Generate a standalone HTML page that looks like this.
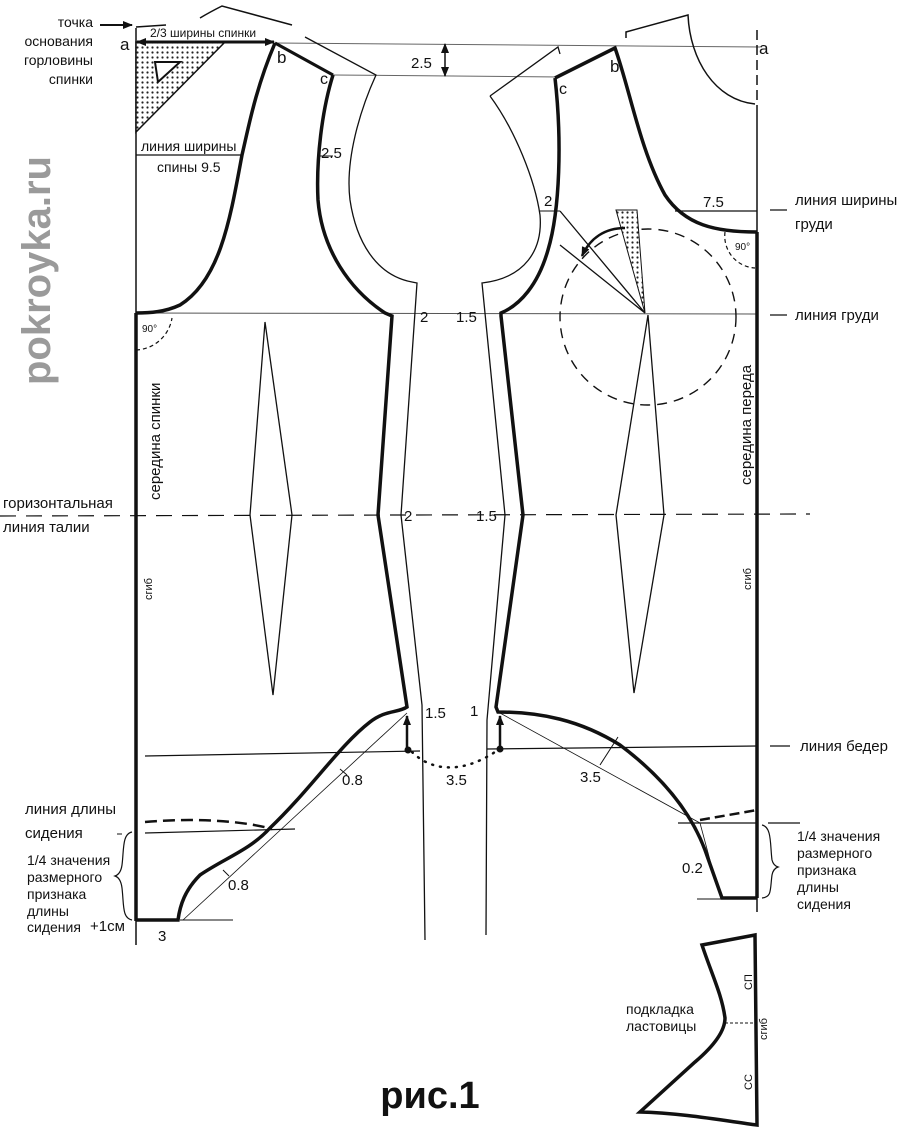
<!DOCTYPE html>
<html><head><meta charset="utf-8"><style>
html,body{margin:0;padding:0;background:#fff}
svg{display:block}
text{font-family:"Liberation Sans","DejaVu Sans",sans-serif;fill:#111}
</style></head><body>
<svg width="900" height="1137" viewBox="0 0 900 1137" xmlns="http://www.w3.org/2000/svg">
<defs>
<pattern id="dots" width="5" height="5" patternUnits="userSpaceOnUse"><rect width="5" height="5" fill="#fff"/><circle cx="2.5" cy="2.5" r="1.1" fill="#222"/></pattern>
<marker id="ah" markerUnits="userSpaceOnUse" markerWidth="10" markerHeight="10" refX="9" refY="4" orient="auto-start-reverse"><path d="M0,0 L10,4 L0,8 Z" fill="#111"/></marker>
</defs>
<g fill="none" stroke="#111">
<line x1="275" y1="43" x2="760" y2="47" stroke-width="1" stroke="#666"/>
<line x1="333" y1="75" x2="560" y2="77" stroke-width="1" stroke="#666"/>
<line x1="136" y1="313" x2="757" y2="314" stroke-width="1" stroke="#555"/>
<line x1="0" y1="516" x2="810" y2="514" stroke-width="1.2" stroke-dasharray="16,10"/>
<line x1="145" y1="756" x2="420" y2="751" stroke-width="1.2"/>
<line x1="487" y1="749" x2="757" y2="746" stroke-width="1.2"/>
<line x1="145" y1="833" x2="295" y2="829" stroke-width="1.2"/>
<line x1="678" y1="823" x2="757" y2="823" stroke-width="1.2"/>
<line x1="180" y1="920" x2="233" y2="920" stroke-width="1"/>
<line x1="697" y1="899" x2="722" y2="899" stroke-width="1"/>
<line x1="136" y1="155" x2="242" y2="155" stroke-width="1.3"/>
<line x1="675" y1="211" x2="757" y2="211" stroke-width="1.3"/>
<line x1="136" y1="28" x2="136" y2="945" stroke-width="1.5"/>
<line x1="136" y1="313" x2="136" y2="921" stroke-width="3.5"/>
<line x1="136" y1="27" x2="166" y2="25" stroke-width="1.5"/>
<path d="M136,42 L225,42 L136,132 Z" fill="url(#dots)" stroke-width="1.5"/>
<path d="M155,62 L180,62 L158,82 Z" fill="#fff" stroke-width="2"/>
<line x1="137" y1="42" x2="274" y2="42" stroke-width="3" marker-end="url(#ah)" marker-start="url(#ah)"/>
<path d="M100,25 L132,25" stroke-width="2" marker-end="url(#ah)"/>
<path d="M275,43 C255,90 248,130 242,155 C230,220 220,280 180,305 C165,312 150,313 136,313" stroke-width="3.5"/>
<path d="M275,43 L333,75" stroke-width="3"/>
<path d="M333,75 C322,110 316,160 318,200 C322,250 350,290 385,313 L392,316 L378,515 L407,707 C398,713 385,710 370,722 C340,745 310,790 270,828 C250,850 225,858 200,875 C185,890 180,905 178,920 L136,920" stroke-width="3.5"/>
<path d="M305,37 L376,75 C360,110 345,160 350,200 C356,240 375,275 412,282 L417,283 L401,515 L422,705 L425,940" stroke-width="1.3"/>
<path d="M200,18 C210,12 218,8 222,6 L292,25" stroke-width="1.5"/>
<line x1="318" y1="156" x2="333" y2="156" stroke-width="1"/>
<line x1="445" y1="44" x2="445" y2="76" stroke-width="1.5" marker-end="url(#ah)" marker-start="url(#ah)"/>
<path d="M265,322 L250,515 L273,695 L292,515 Z" stroke-width="1.3"/>
<path d="M136,350 A38,38 0 0 0 172,318" stroke-width="1.2" stroke-dasharray="4,3"/>
<line x1="407" y1="713" x2="183" y2="920" stroke-width="0.8"/>
<line x1="340" y1="769" x2="347" y2="775" stroke-width="1"/>
<line x1="223" y1="870" x2="229" y2="876" stroke-width="1"/>
<path d="M145,822 C190,818 240,820 272,829" stroke-width="2.5" stroke-dasharray="12,6"/>
<path d="M407,748 L407,716" stroke-width="2.5" marker-end="url(#ah)"/>
<path d="M500,747 L500,716" stroke-width="2.5" marker-end="url(#ah)"/>
<path d="M412,752 C430,770 460,775 495,752" stroke-width="2.5" stroke-dasharray="1,7" stroke-linecap="round"/>
<line x1="757" y1="30" x2="757" y2="105" stroke-width="1.5" stroke-dasharray="10,5"/>
<line x1="757" y1="105" x2="757" y2="912" stroke-width="1.5"/>
<line x1="757" y1="232" x2="757" y2="898" stroke-width="3.5"/>
<path d="M626,38 L626,32 L688,15 C690,60 715,100 755,104" stroke-width="1.5"/>
<path d="M555,78 L615,48 C630,90 640,150 665,195 C685,225 715,232 757,232" stroke-width="3.5"/>
<path d="M555,78 C562,140 560,210 548,250 C538,285 520,305 501,313 L501,316 L523,515 L496,707 L498,712 C540,712 580,720 620,745 C660,775 690,810 705,850 L722,898 L757,898" stroke-width="3.5"/>
<path d="M490,96 L558,47 L560,54" stroke-width="1.3"/>
<path d="M490,96 C515,130 535,180 540,215 C543,250 525,278 482,283 L505,515 L487,720 L486,935" stroke-width="1.3"/>
<line x1="540" y1="211" x2="560" y2="211" stroke-width="1"/>
<circle cx="648" cy="317" r="88" stroke-width="1.4" stroke-dasharray="10,7"/>
<path d="M560,211 L645,313 L560,245" stroke-width="1.3"/>
<path d="M616,210 L637,210 L645,313 Z" fill="url(#dots)" stroke-width="1"/>
<path d="M625,228 C605,228 590,238 582,256" stroke-width="2.5" marker-end="url(#ah)"/>
<path d="M648,315 L616,515 L634,693 L664,515 Z" stroke-width="1.3"/>
<path d="M725,232 A32,32 0 0 0 755,268" stroke-width="1.2" stroke-dasharray="4,3"/>
<line x1="500" y1="713" x2="700" y2="823" stroke-width="0.8"/>
<line x1="600" y1="765" x2="618" y2="737" stroke-width="1"/>
<line x1="700" y1="823" x2="718" y2="890" stroke-width="0.8"/>
<path d="M700,820 L757,810" stroke-width="2.5" stroke-dasharray="10,5"/>
<path d="M132,832 C122,834 124,850 122,865 C121,872 118,875 115,876 C118,877 121,880 122,888 C124,905 122,918 132,920" stroke-width="1.2"/>
<path d="M762,825 C772,827 770,845 772,860 C773,864 775,866 778,867 C775,868 773,870 772,875 C770,890 772,897 762,898" stroke-width="1.2"/>
<line x1="770" y1="210" x2="787" y2="210" stroke-width="1.3"/>
<line x1="770" y1="315" x2="787" y2="315" stroke-width="1.3"/>
<line x1="770" y1="746" x2="790" y2="746" stroke-width="1.3"/>
<line x1="768" y1="823" x2="800" y2="823" stroke-width="1.3"/>
<line x1="117" y1="834" x2="122" y2="834" stroke-width="1"/>
<path d="M702,945 L755,935 L757,1125 C720,1120 680,1113 640,1112 L695,1062 C715,1045 725,1030 725,1018 C722,995 712,975 702,945 Z" stroke-width="3.5"/>
<line x1="725" y1="1023" x2="757" y2="1023" stroke-width="1" stroke-dasharray="3,2"/>
</g>
<g fill="#111" stroke="none">
<circle cx="408" cy="750" r="3.5"/><circle cx="500" cy="749" r="3.5"/>
</g>
<g font-size="14">
<text x="93" y="27" text-anchor="end">точка</text>
<text x="93" y="46" text-anchor="end">основания</text>
<text x="93" y="65" text-anchor="end">горловины</text>
<text x="93" y="84" text-anchor="end">спинки</text>
<text x="150" y="37" font-size="12">2/3 ширины спинки</text>
<text x="120" y="50" font-size="17">a</text>
<text x="277" y="63" font-size="17">b</text>
<text x="320" y="84" font-size="16">c</text>
<text x="141" y="151">линия ширины</text>
<text x="157" y="172">спины 9.5</text>
<text x="411" y="68" font-size="15" fill="#333">2.5</text>
<text x="321" y="158" font-size="15">2.5</text>
<text x="142" y="332" font-size="10">90°</text>
<text x="420" y="322" font-size="15">2</text>
<text x="456" y="322" font-size="15">1.5</text>
<text x="404" y="521" font-size="15">2</text>
<text x="476" y="521" font-size="15">1.5</text>
<text x="425" y="718" font-size="15">1.5</text>
<text x="470" y="716" font-size="15">1</text>
<text x="342" y="785" font-size="15">0.8</text>
<text x="228" y="890" font-size="15">0.8</text>
<text x="446" y="785" font-size="15">3.5</text>
<text x="580" y="782" font-size="15">3.5</text>
<text x="682" y="873" font-size="15">0.2</text>
<text x="158" y="941" font-size="15">3</text>
<text x="759" y="54" font-size="17">a</text>
<text x="610" y="72" font-size="17">b</text>
<text x="559" y="94" font-size="16">c</text>
<text x="544" y="206" font-size="15">2</text>
<text x="703" y="207" font-size="15">7.5</text>
<text x="735" y="250" font-size="10">90°</text>
<text x="795" y="205" font-size="15">линия ширины</text>
<text x="795" y="229" font-size="15">груди</text>
<text x="795" y="320" font-size="15">линия груди</text>
<text x="800" y="751" font-size="15">линия бедер</text>
<text x="797" y="841">1/4 значения</text>
<text x="797" y="858">размерного</text>
<text x="797" y="875">признака</text>
<text x="797" y="892">длины</text>
<text x="797" y="909">сидения</text>
<text x="3" y="508" font-size="15">горизонтальная</text>
<text x="3" y="532" font-size="15">линия талии</text>
<text x="25" y="814" font-size="15">линия длины</text>
<text x="25" y="838" font-size="15">сидения</text>
<text x="27" y="865">1/4 значения</text>
<text x="27" y="882">размерного</text>
<text x="27" y="899">признака</text>
<text x="27" y="916">длины</text>
<text x="27" y="932">сидения</text>
<text x="90" y="931" font-size="15">+1см</text>
<text x="626" y="1014">подкладка</text>
<text x="626" y="1031">ластовицы</text>
<text transform="translate(160,500) rotate(-90)" font-size="15">середина спинки</text>
<text transform="translate(152,600) rotate(-90)" font-size="11">сгиб</text>
<text transform="translate(751,485) rotate(-90)" font-size="15">середина переда</text>
<text transform="translate(751,590) rotate(-90)" font-size="11">сгиб</text>
<text transform="translate(752,990) rotate(-90)" font-size="11">СП</text>
<text transform="translate(767,1040) rotate(-90)" font-size="11">сгиб</text>
<text transform="translate(752,1090) rotate(-90)" font-size="11">СС</text>
</g>
<text x="430" y="1108" font-size="38" font-weight="bold" text-anchor="middle">рис.1</text>
<text transform="translate(50,385) rotate(-90)" font-size="40" font-weight="bold" style="fill:#9a9a9a">pokroyka.ru</text>
</svg>
</body></html>
